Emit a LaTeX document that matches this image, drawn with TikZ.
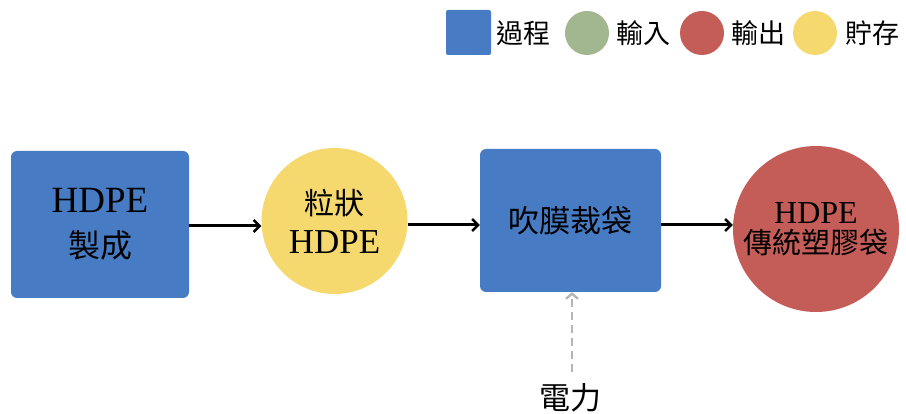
\documentclass[tikz,border=0pt]{standalone}
\usepackage{fontspec}
\setmainfont{Liberation Serif}
\newfontfamily\cjk{Noto Sans CJK TC}
\usetikzlibrary{arrows.meta}
\definecolor{procblue}{HTML}{477CC4}
\definecolor{ingreen}{HTML}{A2B68F}
\definecolor{outred}{HTML}{C45D58}
\definecolor{storeyellow}{HTML}{F5D96F}
\definecolor{dashgray}{HTML}{B5B5B5}
\tikzset{
  procbox/.style={fill=procblue, draw=none, rounded corners=6pt, align=center, inner sep=0pt},
  circ/.style={circle, draw=none, inner sep=0pt, align=center},
  flow/.style={line width=3pt, -{Straight Barb[length=6pt,width=12pt,line width=2.4pt]}},
  elec/.style={line width=2.8pt, dashgray, dash pattern=on 8pt off 5pt, -{Straight Barb[length=5pt,width=12pt,line width=2.4pt]}},
  leg/.style={font=\cjk\fontsize{27}{30}\selectfont, anchor=west, inner sep=0pt},
}
\begin{document}
\begin{tikzpicture}[x=1pt,y=-1pt]
\useasboundingbox (0,0) rectangle (906,414);
% main nodes
\node[procbox, minimum width=178pt, minimum height=147pt, font=\fontsize{37}{45}\selectfont] (p1) at (100,224.5)
  {HDPE\\{\cjk\fontsize{32}{45}\selectfont 製成}};
\node[circ, fill=storeyellow, minimum size=146pt, font=\fontsize{35}{39}\selectfont] (s1) at (334.5,221)
  {{\cjk\fontsize{30}{39}\selectfont 粒狀}\\HDPE};
\node[procbox, minimum width=181pt, minimum height=143pt, font=\cjk\fontsize{31}{36}\selectfont] (p2) at (570.5,220.5)
  {吹膜裁袋};
\node[circ, fill=outred, minimum size=166pt, font=\fontsize{32}{30}\selectfont] (o1) at (816,229)
  {HDPE\\{\cjk\fontsize{29}{30}\selectfont 傳統塑膠袋}};
\node[font=\cjk\fontsize{31}{34}\selectfont, inner sep=0pt] (e) at (570,398) {電力};
\coordinate (etail) at (572,372);
% connectors
\draw[flow] (p1.east |- 0,226) -- (s1.west |- 0,226);
\draw[flow] (s1.east |- 0,225) -- (p2.west |- 0,225);
\draw[flow] (p2.east |- 0,225) -- (o1.west |- 0,225);
\draw[elec] (etail) -- (etail |- p2.south);
% legend
\node[fill=procblue, rounded corners=2pt, minimum size=45pt, inner sep=0pt] (lp) at (468.5,32.5) {};
\node[leg] (lpt) at (496,33) {過程};
\node[circ, fill=ingreen, minimum size=44pt] (li) at (587,33) {};
\node[leg] (lit) at (616,33) {輸入};
\node[circ, fill=outred, minimum size=44pt] (lo) at (702,33) {};
\node[leg] (lot) at (731,33) {輸出};
\node[circ, fill=storeyellow, minimum size=44pt] (ls) at (815,33) {};
\node[leg] (lst) at (845,33) {貯存};
\end{tikzpicture}
\end{document}
